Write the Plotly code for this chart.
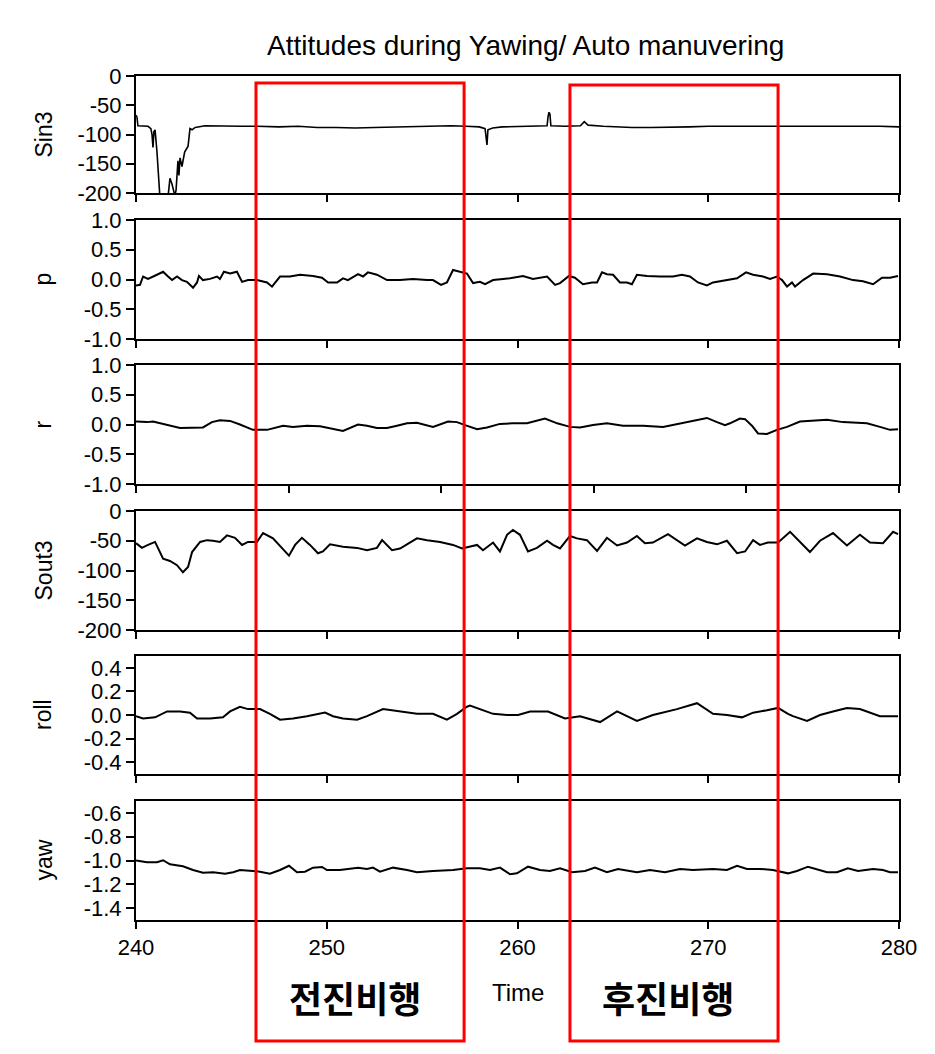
import plotly.graph_objects as go

# ---------------- data ----------------
t_sin3 = [240.00, 240.05, 240.10, 240.63, 240.78, 240.84, 240.89, 240.94, 241.00, 241.10,
          241.26, 241.63, 241.70, 241.78, 241.89, 242.04, 242.10, 242.20, 242.25, 242.31,
          242.41, 242.55, 242.73, 242.83, 242.94, 243.10, 243.62, 244.50, 245.50, 246.34,
          247.50, 248.50, 249.50, 250.50, 251.50, 252.50, 253.50, 254.50, 255.50, 256.50,
          257.30, 258.00, 258.30, 258.40, 258.45, 258.70, 259.20, 260.00, 261.00, 261.55,
          261.60, 261.65, 261.70, 261.75, 262.50, 263.30, 263.50, 263.70, 264.50, 265.00,
          266.00, 267.00, 268.00, 269.00, 270.00, 271.00, 272.00, 273.00, 274.00, 275.00,
          276.00, 277.00, 278.00, 279.00, 280.00]
sin3 = [-67, -70, -85, -86, -90, -100, -122, -95, -92, -130,
        -210, -210, -200, -175, -185, -205, -195, -145, -170, -140,
        -155, -130, -120, -90, -92, -88, -85, -86, -86, -86,
        -87, -86, -88, -88, -89, -88, -87, -86, -86, -85,
        -86, -87, -90, -118, -92, -89, -87, -86, -86, -85,
        -70, -62, -65, -85, -86, -85, -78, -84, -86, -87,
        -88, -88, -88, -87, -86, -86, -85, -86, -85, -86,
        -85, -86, -86, -86, -87]

t_p = [240.00, 240.21, 240.37, 240.63, 241.10, 241.42, 241.68, 241.89, 242.15, 242.41,
       242.67, 242.99, 243.20, 243.30, 243.51, 243.88, 244.25, 244.40, 244.61, 244.93,
       245.29, 245.56, 245.87, 246.34, 246.87, 247.13, 247.55, 248.07, 248.60, 249.28,
       249.75, 250.07, 250.54, 250.85, 251.11, 251.64, 251.90, 252.16, 252.63, 253.16,
       253.84, 254.52, 255.26, 255.57, 255.99, 256.30, 256.62, 256.99, 257.35,
       257.67, 258.03, 258.30, 258.72, 259.24, 259.61, 260.29, 260.81, 261.55, 261.97,
       262.23, 262.70, 263.01, 263.43, 263.91, 264.17, 264.43, 264.69, 265.01, 265.37,
       265.74, 266.00, 266.26, 266.79, 267.47, 268.15, 268.62, 269.04, 269.46, 269.93,
       270.25, 270.98, 271.51, 271.98, 272.35, 272.87, 273.24, 273.60, 273.87, 274.13,
       274.39, 274.55, 274.97, 275.50, 276.23, 276.91, 277.59, 278.11, 278.64, 279.11,
       279.53, 279.95]
p = [-0.10, -0.09, 0.05, 0.01, 0.08, 0.13, 0.05, -0.01, 0.05, -0.01,
     -0.04, -0.14, -0.05, 0.06, -0.01, 0.01, 0.05, 0.01, 0.13, 0.10,
     0.13, -0.04, -0.01, -0.01, -0.05, -0.12, 0.05, 0.05, 0.08, 0.06,
     0.03, -0.05, -0.05, 0.02, -0.01, 0.09, 0.05, 0.12, 0.08, -0.01,
     -0.01, 0.01, -0.01, -0.01, -0.09, -0.05, 0.16, 0.13, 0.10,
     -0.06, -0.04, -0.08, -0.01, 0.01, 0.02, 0.06, 0.01, 0.05, -0.09,
     -0.06, 0.06, 0.03, -0.08, -0.05, -0.05, 0.12, 0.09, 0.08, -0.05,
     -0.05, -0.08, 0.08, 0.06, 0.05, 0.05, 0.08, 0.05, -0.05, -0.10,
     -0.05, -0.01, 0.02, 0.12, 0.08, 0.05, 0.01, 0.05, -0.01, -0.12,
     -0.05, -0.12, -0.01, 0.10, 0.09, 0.05, -0.01, -0.03, -0.08, 0.03,
     0.03, 0.06]

t_r = [240.00, 240.58, 240.89, 241.63, 242.31, 243.51, 243.98, 244.40, 244.93, 245.45,
       246.13, 246.87, 247.71, 248.23, 248.96, 249.65, 250.33, 250.85, 251.64, 252.11,
       252.63, 253.16, 253.68, 254.21, 254.73, 255.15, 255.57, 256.36, 256.83, 257.25,
       257.88, 258.40, 259.08, 259.76, 260.50, 261.44, 262.08, 262.75, 263.28, 263.96,
       264.69, 265.53, 266.58, 267.63, 268.52, 269.93, 270.46, 270.88, 271.14, 271.66,
       271.93, 272.29, 272.61, 273.08, 273.60, 274.13, 274.81, 275.49, 276.23, 277.06,
       278.32, 279.00, 279.53, 279.95]
r = [0.05, 0.04, 0.05, -0.01, -0.06, -0.05, 0.04, 0.07, 0.06, 0.00,
     -0.09, -0.09, -0.02, -0.04, -0.02, -0.03, -0.08, -0.11, 0.00, -0.02,
     -0.06, -0.06, -0.02, 0.02, 0.03, 0.00, -0.04, 0.05, 0.04, -0.01,
     -0.08, -0.05, 0.01, 0.02, 0.02, 0.10, 0.02, -0.04, -0.05, -0.01,
     0.02, -0.02, -0.02, -0.04, 0.02, 0.11, 0.04, -0.01, 0.02, 0.10,
     0.09, -0.02, -0.15, -0.16, -0.09, -0.04, 0.05, 0.07, 0.08, 0.04,
     0.02, -0.04, -0.09, -0.08]

t_sout3 = [240.00, 240.31, 240.63, 241.00, 241.42, 241.78, 242.15, 242.46, 242.73, 242.94,
           243.36, 243.72, 244.04, 244.40, 244.77, 245.19, 245.56, 245.87, 246.34, 246.66,
           247.18, 247.65, 248.02, 248.34, 248.70, 249.12, 249.54, 249.80, 250.17, 250.85,
           251.59, 252.11, 252.63, 252.90, 253.42, 253.84, 254.10, 254.73, 255.26, 255.94,
           256.62, 257.09,
           257.88, 258.19, 258.72, 259.08, 259.45, 259.76, 260.13, 260.55, 261.02, 261.55,
           261.86, 262.23, 262.75, 263.12, 263.64, 264.17, 264.69, 265.22, 265.74, 266.26,
           266.68, 267.10, 267.89, 268.36, 268.78, 269.41, 269.93, 270.46, 270.98, 271.51,
           271.93, 272.35, 272.71, 273.13, 273.66, 274.29, 274.81, 275.33, 275.86, 276.54,
           277.27, 277.95, 278.48, 279.16, 279.69, 279.95]
sout3 = [-54, -62, -57, -52, -80, -84, -91, -103, -94, -69,
         -52, -49, -50, -52, -41, -45, -57, -52, -52, -37,
         -46, -63, -75, -57, -45, -57, -71, -68, -56, -60,
         -62, -66, -62, -49, -66, -63, -58, -46, -49, -52,
         -57, -63,
         -57, -66, -53, -68, -40, -32, -40, -68, -62, -50,
         -57, -63, -42, -46, -49, -67, -45, -58, -53, -42,
         -54, -53, -39, -49, -58, -46, -52, -56, -50, -71,
         -68, -49, -57, -53, -53, -35, -52, -69, -50, -37,
         -58, -40, -53, -54, -35, -39]

t_roll = [240.00, 240.37, 241.00, 241.63, 242.31, 242.83, 243.20, 243.88, 244.56, 244.93,
          245.45, 245.87, 246.50, 247.02, 247.55, 248.23, 248.96, 249.91, 250.33, 250.85,
          251.59, 252.11, 252.95, 253.84, 254.73, 255.57, 256.30, 256.83, 257.35,
          257.51, 258.03, 258.72, 259.45, 260.03, 260.66, 261.60, 262.49, 263.28, 264.33,
          265.22, 266.26, 267.10, 268.36, 269.04, 269.41, 270.25, 270.98, 271.77, 272.35,
          273.08, 273.66, 274.18, 274.44, 275.18, 275.86, 276.54, 277.27, 277.95, 278.64,
          279.00, 279.95]
roll = [-0.01, -0.03, -0.02, 0.03, 0.03, 0.02, -0.03, -0.03, -0.02, 0.03,
        0.07, 0.05, 0.05, 0.01, -0.04, -0.03, -0.01, 0.02, -0.01, -0.03,
        -0.04, -0.01, 0.05, 0.03, 0.01, 0.01, -0.04, 0.01, 0.07,
        0.08, 0.05, 0.01, 0.00, 0.00, 0.03, 0.03, -0.03, -0.01, -0.06,
        0.03, -0.05, 0.00, 0.05, 0.08, 0.10, 0.01, 0.00, -0.02, 0.02,
        0.04, 0.06, 0.01, -0.01, -0.05, 0.00, 0.03, 0.06, 0.05, 0.01,
        -0.01, -0.01]

t_yaw = [240.00, 240.58, 241.10, 241.42, 241.78, 242.46, 242.99, 243.51, 244.04, 244.67,
         245.09, 245.45, 246.13, 246.50, 247.02, 247.55, 248.02, 248.44, 248.86, 249.28,
         249.75, 250.01, 250.69, 251.64, 252.11, 252.42, 252.79, 253.47, 254.21, 254.73,
         255.57, 256.62, 257.35,
         258.03, 258.56, 259.08, 259.61, 259.97, 260.55, 261.18, 261.70, 262.23, 262.86,
         263.54, 264.06, 264.69, 265.27, 266.26, 266.95, 267.73, 268.52, 269.20, 270.25,
         270.98, 271.51, 272.03, 272.71, 273.39, 274.18, 274.65, 275.23, 276.23, 276.75,
         277.32, 277.85, 278.64, 279.16, 279.53, 279.95]
yaw = [-1.000, -1.015, -1.015, -0.998, -1.032, -1.049, -1.080, -1.102, -1.099, -1.111,
       -1.099, -1.080, -1.088, -1.094, -1.111, -1.080, -1.044, -1.099, -1.094, -1.060,
       -1.054, -1.080, -1.080, -1.060, -1.071, -1.060, -1.094, -1.060, -1.080, -1.099,
       -1.088, -1.080, -1.066,
       -1.066, -1.080, -1.060, -1.116, -1.108, -1.052, -1.080, -1.088, -1.066, -1.099,
       -1.088, -1.060, -1.099, -1.071, -1.099, -1.080, -1.099, -1.071, -1.080, -1.071,
       -1.080, -1.044, -1.071, -1.071, -1.080, -1.108, -1.088, -1.052, -1.099, -1.099,
       -1.066, -1.088, -1.071, -1.080, -1.099, -1.099]

x_ticks = [240, 250, 260, 270, 280]
x_ticks_r = [240, 248, 256, 264, 272, 280]
x_labels = ["240", "250", "260", "270", "280"]

# flight phases highlighted by red boxes (time windows)
forward_window = [246.29, 257.20]
backward_window = [262.75, 273.66]
phase_labels = ["전진비행", "후진비행"]

# ---------------- layout geometry ----------------
W, H = 935, 1054
L, R, T, B = 136, 36, 76, 134
PW, PH = W - L - R, H - T - B


def py(px):
    return (H - B - px) / PH


def pxx(px):
    return (px - L) / PW


FONT = "Arial, 'Liberation Sans', sans-serif"

panels = [
    dict(name="Sin3", t=t_sin3, v=sin3, rng=[-200, 0], tv=[0, -50, -100, -150, -200],
         tt=["0", "-50", "-100", "-150", "-200"], lw=1.6, top=76, bot=193, xt=x_ticks),
    dict(name="p", t=t_p, v=p, rng=[-1, 1], tv=[1, 0.5, 0, -0.5, -1],
         tt=["1.0", "0.5", "0.0", "-0.5", "-1.0"], lw=2, top=220, bot=339, xt=x_ticks),
    dict(name="r", t=t_r, v=r, rng=[-1, 1], tv=[1, 0.5, 0, -0.5, -1],
         tt=["1.0", "0.5", "0.0", "-0.5", "-1.0"], lw=2, top=365, bot=484, xt=x_ticks_r),
    dict(name="Sout3", t=t_sout3, v=sout3, rng=[-200, 0], tv=[0, -50, -100, -150, -200],
         tt=["0", "-50", "-100", "-150", "-200"], lw=2, top=511, bot=630, xt=x_ticks),
    dict(name="roll", t=t_roll, v=roll, rng=[-0.5, 0.5], tv=[0.4, 0.2, 0, -0.2, -0.4],
         tt=["0.4", "0.2", "0.0", "-0.2", "-0.4"], lw=2, top=656, bot=774, xt=x_ticks),
    dict(name="yaw", t=t_yaw, v=yaw, rng=[-1.5, -0.5], tv=[-0.6, -0.8, -1.0, -1.2, -1.4],
         tt=["-0.6", "-0.8", "-1.0", "-1.2", "-1.4"], lw=2, top=801, bot=920, xt=x_ticks),
]

fig = go.Figure()
layout = {}
annotations = []
for i, pn in enumerate(panels, start=1):
    sfx = "" if i == 1 else str(i)
    fig.add_trace(go.Scatter(x=pn["t"], y=pn["v"], mode="lines",
                             line=dict(color="black", width=pn["lw"]),
                             xaxis="x" + sfx, yaxis="y" + sfx, showlegend=False,
                             hoverinfo="skip"))
    last = (i == len(panels))
    layout["xaxis" + sfx] = dict(
        domain=[0, 1], anchor="y" + sfx, range=[240, 280],
        tickvals=pn["xt"], ticktext=x_labels if last else None,
        showticklabels=last, ticks="outside", ticklen=7, tickwidth=1.5,
        tickcolor="black", showline=True, linewidth=2, linecolor="black",
        mirror=True, showgrid=False, zeroline=False,
        tickfont=dict(family=FONT, size=22, color="black"),
        fixedrange=True)
    layout["yaxis" + sfx] = dict(
        domain=[py(pn["bot"]), py(pn["top"])], anchor="x" + sfx, range=pn["rng"],
        tickvals=pn["tv"], ticktext=pn["tt"], ticks="outside", ticklen=8,
        tickwidth=1.5, tickcolor="black", showline=True, linewidth=2,
        linecolor="black", mirror=True, showgrid=False, zeroline=False,
        tickfont=dict(family=FONT, size=22, color="black"), fixedrange=True)
    annotations.append(dict(text=pn["name"], xref="paper", yref="paper",
                            x=pxx(43), y=(py(pn["bot"]) + py(pn["top"])) / 2,
                            textangle=-90, showarrow=False, xanchor="center",
                            yanchor="middle",
                            font=dict(family=FONT, size=23, color="black")))

annotations.append(dict(text="Attitudes during Yawing/ Auto manuvering", xref="paper",
                        yref="paper", x=pxx(525), y=py(45), showarrow=False,
                        xanchor="center", yanchor="middle",
                        font=dict(family=FONT, size=28, color="black")))
annotations.append(dict(text="Time", xref="paper", yref="paper", x=pxx(518), y=py(992),
                        showarrow=False, xanchor="center", yanchor="middle",
                        font=dict(family=FONT, size=24, color="black")))
for lbl, cx in zip(phase_labels, [355, 668]):
    annotations.append(dict(text="<b>" + lbl + "</b>", xref="paper", yref="paper",
                            x=pxx(cx), y=py(997), showarrow=False, xanchor="center",
                            yanchor="middle",
                            font=dict(family="'Noto Sans CJK KR', sans-serif", size=36,
                                      color="black")))

shapes = []
for win, top_px in zip([forward_window, backward_window], [83, 85]):
    shapes.append(dict(type="rect", xref="x6", yref="paper", x0=win[0], x1=win[1],
                       y0=py(1041), y1=py(top_px), line=dict(color="#FF0000", width=3),
                       fillcolor="rgba(0,0,0,0)", layer="above"))

fig.update_layout(
    width=W, height=H, margin=dict(l=L, r=R, t=T, b=B, autoexpand=False),
    paper_bgcolor="white", plot_bgcolor="white", showlegend=False,
    annotations=annotations, shapes=shapes, **layout)

fig.write_html("out.html")
